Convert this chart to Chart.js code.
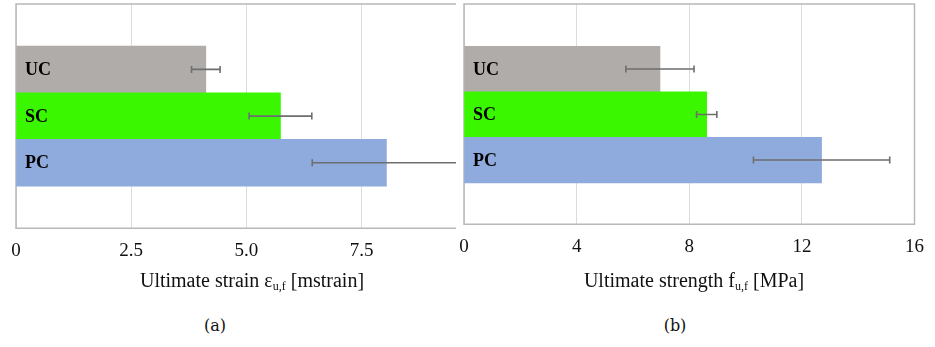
<!DOCTYPE html>
<html>
<head>
<meta charset="utf-8">
<script src="https://cdn.jsdelivr.net/npm/chart.js@4"></script>
<style>
    body { margin: 0; background: #fff; }
    #wrap { position: relative; width: 935px; height: 347px; overflow: hidden; font-family: 'Liberation Serif', 'Times New Roman', serif; }
    .chart-box { position: absolute; top: 0; }
    .axis-title { position: absolute; font-size: 20px; color: #111; white-space: nowrap; transform: translate(-50%, -50%); }
    .axis-title sub { font-size: 12px; vertical-align: -3px; }
    .caption { position: absolute; font-family: 'DejaVu Serif', serif; font-size: 16px; color: #111; transform: translate(-50%, -50%); }
</style>
</head>
<body>
<div id="wrap">
    <div class="chart-box" style="left:0; width:456px; height:273px;"><canvas id="strainChart"></canvas></div>
    <div class="chart-box" style="left:440px; width:495px; height:269px;"><canvas id="strengthChart"></canvas></div>

    <div class="axis-title" style="left:252px; top:281px;">Ultimate strain ε<sub>u,f</sub> [mstrain]</div>
    <div class="axis-title" style="left:694px; top:281px;">Ultimate strength f<sub>u,f</sub> [MPa]</div>
    <div class="caption" style="left:215px; top:325px;">(a)</div>
    <div class="caption" style="left:675px; top:325px;">(b)</div>
</div>

<script>
// Data
const categories = ['UC', 'SC', 'PC'];
const barColors = ['#b0acaa', '#3af700', '#8faadc'];

const strainValues = [4.12, 5.74, 8.04];
const strainErrors = [0.31, 0.68, 1.61];
const strainTicks = [0, 2.5, 5, 7.5];

const strengthValues = [6.96, 8.62, 12.70];
const strengthErrors = [1.21, 0.36, 2.42];
const strengthTicks = [0, 4, 8, 12, 16];

// Gray frame round the plot area (left chart is cut on the right)
const framePlugin = {
    id: 'frame',
    beforeDatasetsDraw(chart, args, opts) {
        const { ctx, chartArea: a } = chart;
        ctx.save();
        ctx.strokeStyle = '#b8b8b8';
        ctx.lineWidth = 1.5;
        ctx.beginPath();
        if (opts.open) {
            ctx.moveTo(a.right, a.top);
            ctx.lineTo(a.left, a.top);
            ctx.lineTo(a.left, a.bottom);
            ctx.lineTo(a.right, a.bottom);
        } else {
            ctx.rect(a.left, a.top, a.right - a.left, a.bottom - a.top);
        }
        ctx.stroke();
        ctx.restore();
    }
};

// Horizontal error bars + category names inside the bars
const errorBarPlugin = {
    id: 'errorBars',
    afterDatasetsDraw(chart, args, opts) {
        const { ctx, chartArea: a } = chart;
        const xs = chart.scales.x;
        const meta = chart.getDatasetMeta(0);
        const values = chart.data.datasets[0].data.map(d => d.x);
        ctx.save();
        ctx.beginPath();
        ctx.rect(a.left, a.top, a.right - a.left, a.bottom - a.top);
        ctx.clip();
        ctx.strokeStyle = '#6e6e6e';
        ctx.lineWidth = 1.6;
        meta.data.forEach((bar, i) => {
            const x1 = xs.getPixelForValue(values[i] - opts.errors[i]);
            const x2 = xs.getPixelForValue(values[i] + opts.errors[i]);
            const y = bar.y;
            ctx.beginPath();
            ctx.moveTo(x1, y); ctx.lineTo(x2, y);
            ctx.moveTo(x1, y - 3.5); ctx.lineTo(x1, y + 3.5);
            ctx.moveTo(x2, y - 3.5); ctx.lineTo(x2, y + 3.5);
            ctx.stroke();

            ctx.fillStyle = '#000';
            ctx.font = 'bold 18px "Liberation Serif"';
            ctx.textAlign = 'left';
            ctx.textBaseline = 'middle';
            ctx.fillText(categories[i], a.left + 9, y + 1);
        });
        ctx.restore();
    }
};

function makeChart(id, values, errors, ticks, xMax, yRange, padding, open) {
    const ctx = document.getElementById(id).getContext('2d');
    return new Chart(ctx, {
        type: 'bar',
        data: {
            datasets: [{
                data: values.map((v, i) => ({ x: v, y: i })),
                backgroundColor: barColors,
                borderWidth: 0,
                categoryPercentage: 1,
                barPercentage: 1
            }]
        },
        options: {
            indexAxis: 'y',
            responsive: true,
            maintainAspectRatio: false,
            animation: false,
            layout: { padding: padding },
            plugins: {
                legend: { display: false },
                tooltip: { enabled: false },
                frame: { open: open },
                errorBars: { errors: errors }
            },
            scales: {
                x: {
                    type: 'linear',
                    min: 0,
                    max: xMax,
                    afterBuildTicks: scale => { scale.ticks = ticks.map(v => ({ value: v })); },
                    ticks: {
                        padding: 11,
                        color: '#111',
                        font: { family: 'Liberation Serif', size: 19 },
                        callback: v => (v === 0 || Number.isInteger(v) && xMax > 10) ? String(v) : v.toFixed(1)
                    },
                    grid: { color: '#dcdcdc', lineWidth: 1, drawTicks: false },
                    border: { display: false }
                },
                y: {
                    type: 'linear',
                    reverse: true,
                    offset: false,
                    min: yRange[0],
                    max: yRange[1],
                    afterBuildTicks: scale => { scale.ticks = categories.map((c, i) => ({ value: i })); },
                    ticks: { display: false },
                    grid: { display: false, drawTicks: false },
                    border: { display: false }
                }
            }
        },
        plugins: [framePlugin, errorBarPlugin]
    });
}

makeChart('strainChart', strainValues, strainErrors, strainTicks, 9.55, [-1.4, 3.4],
    { left: 16, top: 4, right: 0, bottom: 0 }, true);
makeChart('strengthChart', strengthValues, strengthErrors, strengthTicks, 16, [-1.43, 3.41],
    { left: 24, top: 4, right: 17, bottom: 0 }, false);
</script>
</body>
</html>
